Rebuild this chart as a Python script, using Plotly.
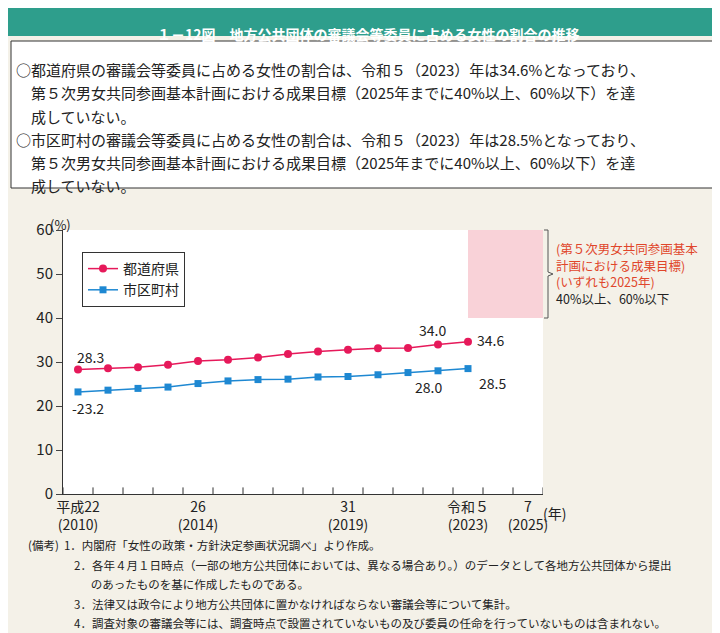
import plotly.graph_objects as go

years = list(range(2010, 2024))
pref = [28.3, 28.6, 28.8, 29.4, 30.2, 30.5, 31.0, 31.8, 32.4, 32.8, 33.1, 33.2, 34.0, 34.6]
muni = [23.2, 23.6, 24.0, 24.3, 25.1, 25.7, 26.0, 26.1, 26.6, 26.7, 27.1, 27.6, 28.0, 28.5]
tick_vals = [2010, 2014, 2019, 2023, 2025]
tick_text = ["平成22<br>(2010)", "26<br>(2014)", "31<br>(2019)", "令和５<br>(2023)", "7<br>(2025)"]

W, H = 720, 633
FONT = "Noto Sans CJK JP"
BG = "#f4f1e8"
PINK = "#e6195a"
BLUE = "#1e88d2"

def px(x): return x / W
def py(y): return 1 - y / H

fig = go.Figure()
fig.add_trace(go.Scatter(x=years, y=pref, name="都道府県", mode="lines+markers",
                         line=dict(color=PINK, width=1.5), marker=dict(symbol="circle", size=8, color=PINK)))
fig.add_trace(go.Scatter(x=years, y=muni, name="市区町村", mode="lines+markers",
                         line=dict(color=BLUE, width=1.5), marker=dict(symbol="square", size=7, color=BLUE)))

# target zone
fig.add_shape(type="rect", x0=2023, x1=2025.5, y0=40, y1=60, fillcolor="#f9d2d8", line_width=0, layer="below")
# minor tick boxes at bottom
for i in range(17):
    fig.add_shape(type="line", x0=2009.5 + i, x1=2009.5 + i, y0=0, y1=1.5, line=dict(color="#333", width=1))

ann = [
    (2010, 28.3, "28.3", 12, -12), (2010, 23.2, "-23.2", 10, 16),
    (2022, 34.0, "34.0", -6, -14), (2023, 34.6, "34.6", 22, -2),
    (2022, 28.0, "28.0", -10, 16), (2023, 28.5, "28.5", 24, 14),
]
for x, y, t, ax, ay in ann:
    fig.add_annotation(x=x, y=y, text=t, showarrow=False, xshift=ax, yshift=-ay,
                       font=dict(size=14, color="#222"))

# header
fig.add_shape(type="rect", xref="paper", yref="paper", x0=0, x1=1, y0=py(28), y1=1,
              fillcolor="#2e9e8c", line_width=0)
fig.add_annotation(xref="paper", yref="paper", x=0.5, y=py(14), showarrow=False,
                   text="<b>１－12図　地方公共団体の審議会等委員に占める女性の割合の推移</b>",
                   font=dict(size=14, color="white"))
fig.add_shape(type="rect", xref="paper", yref="paper", x0=px(3), x1=px(716), y0=py(180), y1=py(33),
              fillcolor="white", line=dict(color="#333", width=1))
lines = [
    "○都道府県の審議会等委員に占める女性の割合は、令和５（2023）年は34.6%となっており、",
    "　第５次男女共同参画基本計画における成果目標（2025年までに40%以上、60%以下）を達",
    "　成していない。",
    "○市区町村の審議会等委員に占める女性の割合は、令和５（2023）年は28.5%となっており、",
    "　第５次男女共同参画基本計画における成果目標（2025年までに40%以上、60%以下）を達",
    "　成していない。",
]
for i, t in enumerate(lines):
    fig.add_annotation(xref="paper", yref="paper", x=px(6), y=py(49 + i * 23.3), xanchor="left",
                       showarrow=False, text=t, font=dict(size=15, color="#222"))

# bracket and target text
fig.add_shape(type="path", xref="paper", yref="paper",
              path=f"M {px(536)},{py(222)} L {px(540)},{py(222)} L {px(540)},{py(264)} L {px(545)},{py(266)} "
                   f"L {px(540)},{py(268)} L {px(540)},{py(310)} L {px(536)},{py(310)}",
              line=dict(color="#555", width=1))
target = [("(第５次男女共同参画基本", "#e0462b"), ("計画における成果目標)", "#e0462b"),
          ("(いずれも2025年)", "#e0462b"), ("40%以上、60%以下", "#222")]
for i, (t, c) in enumerate(target):
    fig.add_annotation(xref="paper", yref="paper", x=px(546), y=py(241 + i * 16.5), xanchor="left",
                       showarrow=False, font=dict(size=12.5, color=c), text=t)
fig.add_annotation(xref="paper", yref="paper", x=px(40), y=py(205), showarrow=False,
                   text="(%)", font=dict(size=13, color="#222"))
fig.add_annotation(xref="paper", yref="paper", x=px(560), y=py(517), showarrow=False,
                   text="(年)", font=dict(size=14, color="#222"))

notes = [
    "(備考)  1．内閣府「女性の政策・方針決定参画状況調べ」より作成。",
    "　　　　2．各年４月１日時点（一部の地方公共団体においては、異なる場合あり。）のデータとして各地方公共団体から提出",
    "　　　　　  のあったものを基に作成したものである。",
    "　　　　3．法律又は政令により地方公共団体に置かなければならない審議会等について集計。",
    "　　　　4．調査対象の審議会等には、調査時点で設置されていないもの及び委員の任命を行っていないものは含まれない。",
]
for i, t in enumerate(notes):
    fig.add_annotation(xref="paper", yref="paper", x=px(18), y=py(547 + i * 19.5), xanchor="left",
                       showarrow=False, text=t, font=dict(size=11.5, color="#222"))

fig.update_layout(
    width=W, height=H, margin=dict(l=0, r=0, t=0, b=0, autoexpand=False),
    paper_bgcolor=BG, plot_bgcolor="white", font=dict(family=FONT, color="#222"),
    showlegend=True,
    legend=dict(x=px(74), y=py(244), xanchor="left", yanchor="top", bgcolor="white",
                bordercolor="#333", borderwidth=1, font=dict(size=14)),
    xaxis=dict(domain=[px(55), px(535)], range=[2009.5, 2025.5], tickvals=tick_vals, ticktext=tick_text,
               showgrid=False, ticks="", showline=True, linecolor="#333", automargin=False,
               tickfont=dict(size=14), zeroline=False),
    yaxis=dict(domain=[py(486), py(222)], range=[0, 60], dtick=10, showgrid=False, automargin=False,
               ticks="outside", ticklen=6, showline=True, linecolor="#333", tickfont=dict(size=15),
               zeroline=False),
)
fig.write_html("out.html")
